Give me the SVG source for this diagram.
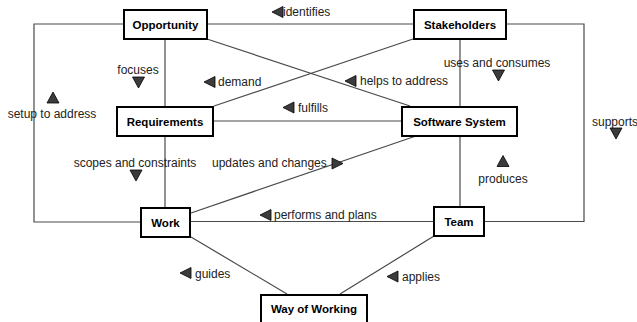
<svg xmlns="http://www.w3.org/2000/svg" width="637" height="322" viewBox="0 0 637 322">
<style>
.bg{fill:#fff}
.conn{fill:none;stroke:#4a4a4a;stroke-width:1.2}
.box{fill:#fff;stroke:#000;stroke-width:2}
.nt{font-family:"Liberation Sans",Arial,sans-serif;font-size:11.5px;font-weight:bold;fill:#000;text-anchor:middle}
.lb{font-family:"Liberation Sans",Arial,sans-serif;font-size:12px;fill:#222}
.tri{fill:#3c3c3c;stroke:#000;stroke-width:0.8;stroke-linejoin:round}
</style>
<defs>
<path id="tl" d="M0,0 L11,-5.5 L11,5.5 Z"/>
<path id="tr" d="M0,0 L-11,-5.5 L-11,5.5 Z"/>
<path id="td" d="M0,0 L-6,-11 L6,-11 Z"/>
<path id="tu" d="M0,0 L-6,11 L6,11 Z"/>
</defs>
<rect class="bg" x="0" y="0" width="637" height="322"/>
<g id="connectors">
<polyline class="conn" points="123,24 34,24 34,222 140,222"/>
<line class="conn" x1="207" y1="24" x2="413" y2="24"/>
<polyline class="conn" points="506,24 584,24 584,221.5 485,221.5"/>
<line class="conn" x1="165" y1="39" x2="165" y2="106"/>
<line class="conn" x1="165" y1="136" x2="165" y2="207"/>
<line class="conn" x1="460" y1="39" x2="460" y2="106"/>
<line class="conn" x1="460" y1="136" x2="460" y2="206"/>
<line class="conn" x1="207" y1="39" x2="410" y2="106"/>
<line class="conn" x1="413" y1="39" x2="214" y2="106"/>
<line class="conn" x1="214" y1="121" x2="401" y2="121"/>
<line class="conn" x1="416" y1="136" x2="191" y2="213"/>
<line class="conn" x1="191" y1="221.5" x2="433" y2="221.5"/>
<line class="conn" x1="191" y1="237" x2="287" y2="294"/>
<line class="conn" x1="434" y1="236" x2="340" y2="294"/>
</g>
<g id="labels">
<use href="#tl" class="tri" x="272" y="12"/>
<text class="lb" x="283" y="16">identifies</text>
<text class="lb" x="138" y="74" text-anchor="middle">focuses</text>
<use href="#td" class="tri" x="138.5" y="88"/>
<use href="#tl" class="tri" x="204" y="82"/>
<text class="lb" x="218" y="86">demand</text>
<use href="#tl" class="tri" x="345" y="81"/>
<text class="lb" x="360" y="85">helps to address</text>
<text class="lb" x="497" y="67" text-anchor="middle">uses and consumes</text>
<use href="#td" class="tri" x="498.5" y="81"/>
<use href="#tu" class="tri" x="53" y="92"/>
<text class="lb" x="52" y="118" text-anchor="middle">setup to address</text>
<use href="#tl" class="tri" x="283" y="107.5"/>
<text class="lb" x="298" y="112">fulfills</text>
<text class="lb" x="592" y="126">supports</text>
<use href="#td" class="tri" x="616" y="139"/>
<text class="lb" x="135" y="167" text-anchor="middle">scopes and constraints</text>
<use href="#td" class="tri" x="136" y="181"/>
<text class="lb" x="212" y="167">updates and changes</text>
<use href="#tr" class="tri" x="343" y="163.5"/>
<use href="#tu" class="tri" x="503" y="155.5"/>
<text class="lb" x="503" y="183" text-anchor="middle">produces</text>
<use href="#tl" class="tri" x="260" y="215"/>
<text class="lb" x="274" y="219">performs and plans</text>
<use href="#tl" class="tri" x="180" y="273"/>
<text class="lb" x="195" y="278">guides</text>
<use href="#tl" class="tri" x="387" y="276.5"/>
<text class="lb" x="402" y="281">applies</text>
</g>
<g id="opportunity"><rect class="box" x="124" y="10" width="83" height="29"/><text class="nt" x="165.5" y="28.5">Opportunity</text></g>
<g id="stakeholders"><rect class="box" x="414" y="10" width="92" height="29"/><text class="nt" x="460" y="28.5">Stakeholders</text></g>
<g id="requirements"><rect class="box" x="117" y="107" width="96" height="29"/><text class="nt" x="165" y="125.5">Requirements</text></g>
<g id="software-system"><rect class="box" x="402" y="107" width="115" height="29"/><text class="nt" x="459.5" y="125.5">Software System</text></g>
<g id="work"><rect class="box" x="141" y="208" width="49" height="29"/><text class="nt" x="165.5" y="226.5">Work</text></g>
<g id="team"><rect class="box" x="434" y="207" width="50" height="29"/><text class="nt" x="459" y="225.5">Team</text></g>
<g id="way-of-working"><rect class="box" x="261" y="295" width="106" height="29"/><text class="nt" x="314" y="313">Way of Working</text></g>
</svg>
